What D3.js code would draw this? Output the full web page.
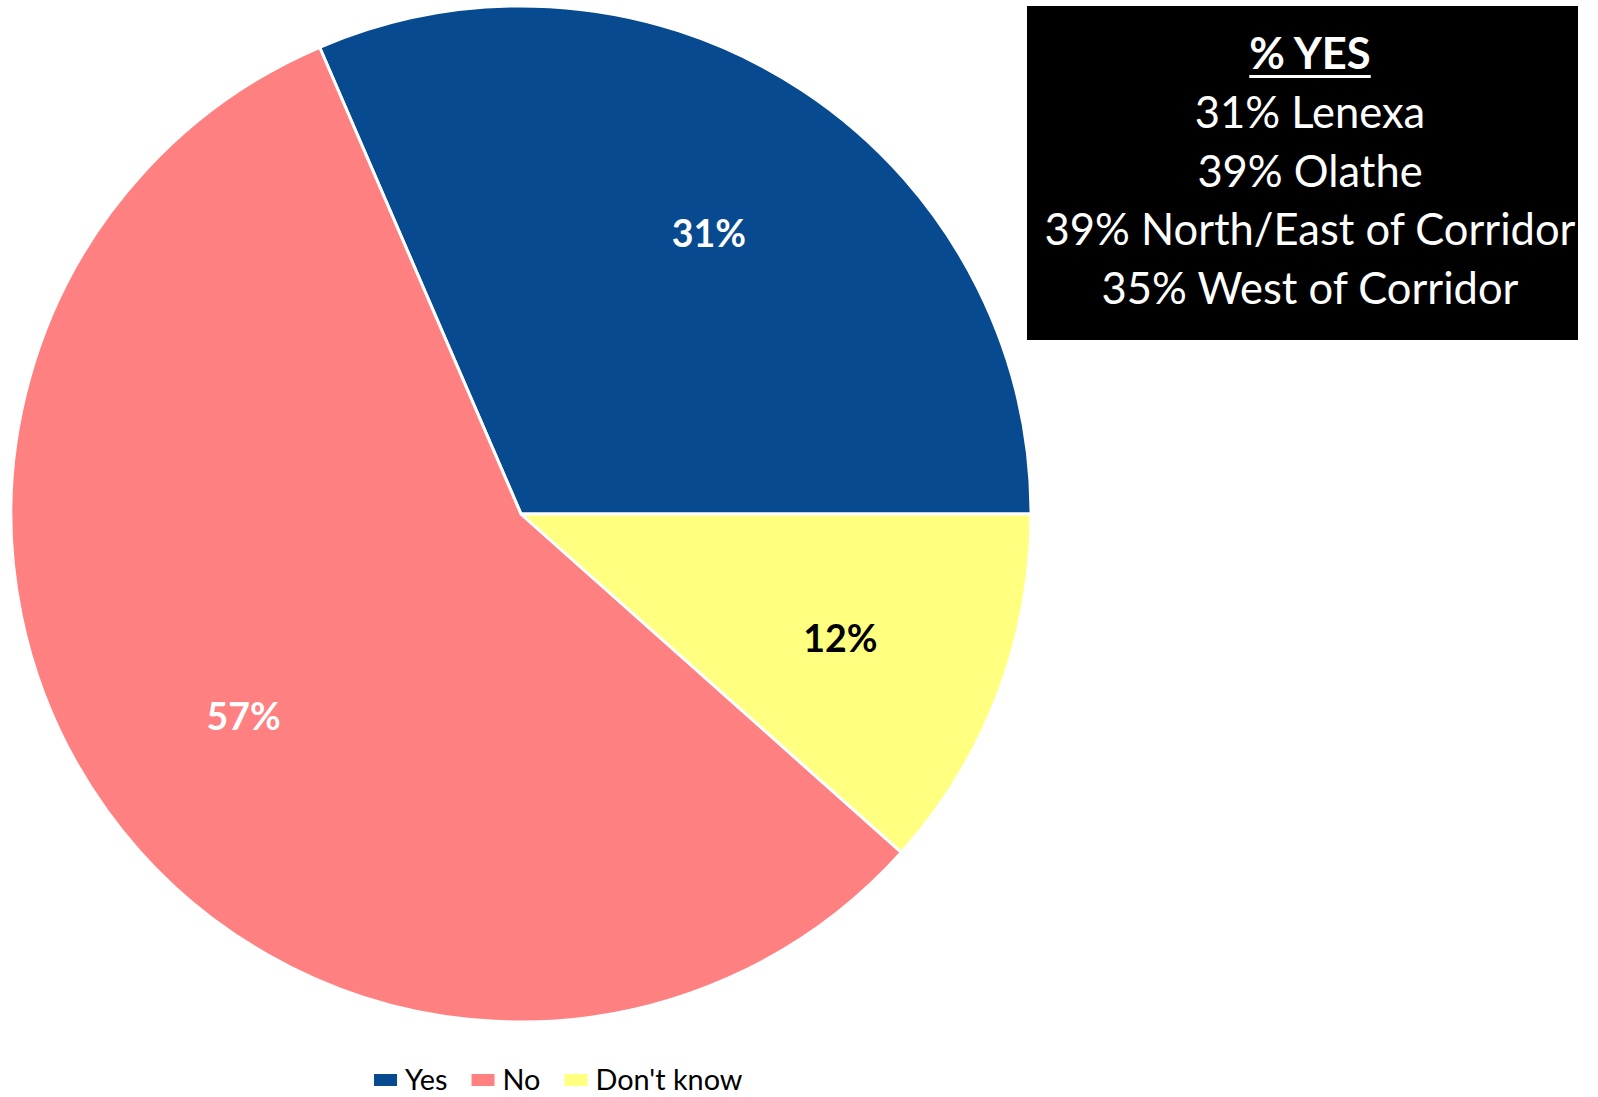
<!DOCTYPE html>
<html><head><meta charset="utf-8">
<script src="https://cdn.jsdelivr.net/npm/d3@7"></script>
<style>html,body{margin:0;padding:0;background:#fff;} svg{display:block}</style>
</head><body>
<svg id="chart" width="1598" height="1097"></svg>
<script>
// ---- data ----
const categories = ["Yes", "No", "Don't know"];
const values = [31.46, 56.94, 11.6];          // estimated from slice geometry; labels show rounded %
const sliceColors = ["#074A90", "#FF8080", "#FFFF80"];
const labelColors = ["#FFFFFF", "#FFFFFF", "#000000"];
const drawOrder = ["Yes", "Don't know", "No"]; // clockwise order of slices
const boxTitle = "% YES";
const boxLines = ["31% Lenexa", "39% Olathe", "39% North/East of Corridor", "35% West of Corridor"];

// ---- layout ----
const W = 1598, H = 1097;
const FONT = "Lato, 'Open Sans', sans-serif";
const cx = 521, cy = 514, R = 508;
const svg = d3.select("#chart");
svg.append("rect").attr("width", W).attr("height", H).attr("fill", "#fff");

// helper: font size such that text has target width
const meas = svg.append("text").attr("font-family", FONT).attr("visibility", "hidden");
function fitSize(txt, weight, target) {
  meas.attr("font-size", 100).attr("font-weight", weight).text(txt);
  const w = meas.node().getComputedTextLength();
  return 100 * target / w;
}

const data = categories.map((c, i) => ({cat: c, value: values[i], color: sliceColors[i], lc: labelColors[i]}));
const total = d3.sum(values);
const start = Math.PI / 2 - 2 * Math.PI * values[0] / total;
const pie = d3.pie().value(d => d.value)
  .sort((a, b) => drawOrder.indexOf(a.cat) - drawOrder.indexOf(b.cat))
  .startAngle(start).endAngle(start + 2 * Math.PI);
const arcs = pie(data);
const arc = d3.arc().innerRadius(0).outerRadius(R);
const labelArc = d3.arc().innerRadius(R * 0.67).outerRadius(R * 0.67);

const g = svg.append("g").attr("transform", `translate(${cx},${cy}) scale(1.004,1)`);
g.selectAll("path.slice").data(arcs).join("path")
  .attr("class", "slice")
  .attr("d", arc)
  .attr("fill", d => d.data.color)
  .attr("stroke", "#fff").attr("stroke-width", 3).attr("stroke-linejoin", "round");

const labelSize = fitSize("31%", "bold", 74);
g.selectAll("text.lbl").data(arcs).join("text")
  .attr("class", "lbl")
  .attr("transform", d => `translate(${labelArc.centroid(d)})`)
  .attr("text-anchor", "middle")
  .attr("dy", "0.45em")
  .attr("font-family", FONT).attr("font-weight", "bold").attr("font-size", labelSize)
  .attr("fill", d => d.data.lc)
  .text(d => Math.round(d.data.value) + "%");

// ---- black text box ----
const box = {x: 1027, y: 6, w: 551, h: 334};
svg.append("rect").attr("x", box.x).attr("y", box.y).attr("width", box.w).attr("height", box.h).attr("fill", "#000");
const boxSize = fitSize(boxLines[2], "normal", 531);
const tx = 1310;
const title = svg.append("text").attr("x", tx).attr("y", 69)
  .attr("text-anchor", "middle").attr("font-family", FONT).attr("font-weight", "bold")
  .attr("font-size", boxSize).attr("fill", "#fff").text(boxTitle);
const tw = title.node().getComputedTextLength();
svg.append("rect").attr("x", tx - tw / 2).attr("y", 75).attr("width", tw).attr("height", 3).attr("fill", "#fff");
svg.selectAll("text.boxline").data(boxLines).join("text")
  .attr("class", "boxline")
  .attr("x", tx).attr("y", (d, i) => 128 + i * 58.5)
  .attr("text-anchor", "middle").attr("font-family", FONT)
  .attr("font-size", boxSize).attr("fill", "#fff").text(d => d);

// ---- legend ----
const legSize = fitSize("Don't know", "normal", 147);
const leg = svg.append("g");
let lx = 374;
const legY = 1080;
categories.forEach((c, i) => {
  leg.append("rect").attr("x", lx).attr("y", legY - 6).attr("width", 23).attr("height", 12).attr("fill", sliceColors[i]);
  const t = leg.append("text").attr("x", lx + 31).attr("y", legY).attr("dy", "0.34em")
    .attr("font-family", FONT).attr("font-size", legSize).attr("fill", "#000").text(c);
  lx = lx + 31 + t.node().getComputedTextLength() + 24;
});
meas.remove();
</script>
</body></html>
